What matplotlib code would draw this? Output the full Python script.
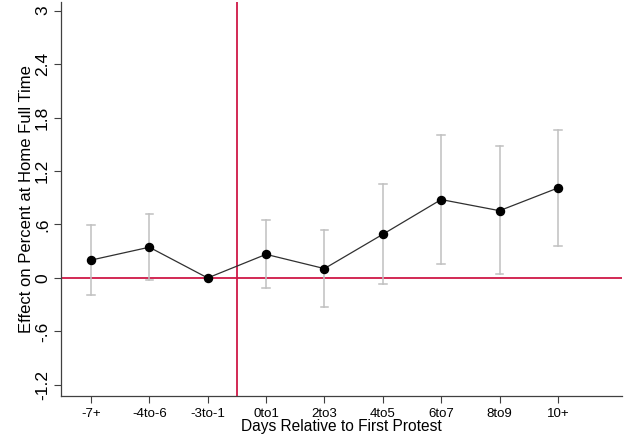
import matplotlib
matplotlib.use('Agg')
import matplotlib.pyplot as plt

bins = ['-7+', '-4to-6', '-3to-1', '0to1', '2to3', '4to5', '6to7', '8to9', '10+']
coef = [0.20, 0.345, 0.0, 0.265, 0.105, 0.49, 0.88, 0.755, 1.01]
ci_lo = [-0.19, -0.02, None, -0.11, -0.33, -0.07, 0.155, 0.04, 0.355]
ci_hi = [0.59, 0.72, None, 0.65, 0.535, 1.05, 1.61, 1.48, 1.665]
yticks = [-1.2, -0.6, 0, 0.6, 1.2, 1.8, 2.4, 3]
ytick_labels = ['-1.2', '-.6', '0', '.6', '1.2', '1.8', '2.4', '3']

plt.rcParams['font.family'] = ['Liberation Sans', 'DejaVu Sans']

fig = plt.figure(figsize=(6.24, 4.4), dpi=100)
ax = fig.add_axes([0.098, 0.101, 0.899, 0.895])

x = list(range(1, len(bins) + 1))
red = '#cf1847'
ax.axhline(0, color=red, lw=1.3, zorder=1)
ax.axvline(3.5, color=red, lw=1.3, zorder=1)

for xi, lo, hi in zip(x, ci_lo, ci_hi):
    if lo is None:
        continue
    ax.plot([xi, xi], [lo, hi], color='#c0c0c0', lw=1.1, zorder=2)
    for v in (lo, hi):
        ax.plot([xi - 0.065, xi + 0.065], [v, v], color='#c0c0c0', lw=1.1, zorder=2)

ax.plot(x, coef, color='#303030', lw=0.9, marker='o', ms=5.8,
        mfc='black', mec='black', zorder=3)

ax.set_xlim(0.49, 10.1)
ax.set_ylim(-1.32, 3.1)
ax.set_xticks(x)
ax.set_xticklabels(bins, fontsize=9.5)
ax.set_yticks(yticks)
ax.set_yticklabels(ytick_labels, fontsize=12.5, rotation=90, va='center')
ax.tick_params(axis='both', length=5, width=0.8, color='#404040', pad=3)
ax.tick_params(axis='x', pad=4)

for s in ('top', 'right'):
    ax.spines[s].set_visible(False)
for s in ('left', 'bottom'):
    ax.spines[s].set_color('#404040')
    ax.spines[s].set_linewidth(0.9)

ax.set_xlabel('Days Relative to First Protest', fontsize=11.2, labelpad=-1)
ax.set_ylabel('Effect on Percent at Home Full Time', fontsize=12, labelpad=1)

fig.savefig('out.png', dpi=100, facecolor='white')
